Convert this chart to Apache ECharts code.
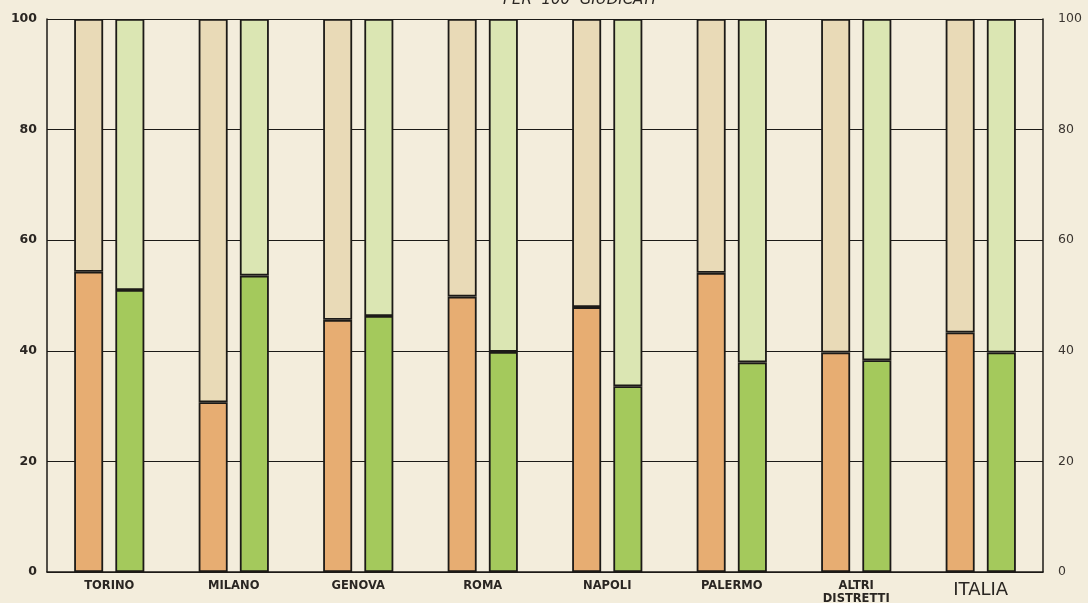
<!DOCTYPE html>
<html>
<head>
<meta charset="utf-8">
<script src="https://cdn.jsdelivr.net/npm/echarts@6/dist/echarts.min.js"></script>
<style>
  html, body { margin: 0; padding: 0; background: #f3eddc; }
  #chart { width: 1088px; height: 603px; }
</style>
</head>
<body>
<div id="chart"></div>
<script>
  // distretti
  var categories = ['TORINO', 'MILANO', 'GENOVA', 'ROMA', 'NAPOLI', 'PALERMO', 'ALTRI\nDISTRETTI', 'ITALIA'];
  // per 100 giudicati (quota scura)
  var orangeValues = [54.3, 30.7, 45.6, 49.8, 47.9, 54.1, 39.7, 43.3];
  var greenValues = [51.0, 53.6, 46.3, 39.8, 33.6, 37.9, 38.3, 39.7];
  var yTicks = [0, 20, 40, 60, 80, 100];

  var rest = function (arr) {
    return arr.map(function (v) { return +(100 - v).toFixed(1); });
  };

  var line = '#1c1a17';
  var barStyle = function (color) {
    return { color: color, borderColor: line, borderWidth: 1.8 };
  };

  var chart = echarts.init(document.getElementById('chart'));
  chart.setOption({
    backgroundColor: '#f3eddc',
    animation: false,
    grid: { left: 47, right: 45, top: 19, bottom: 31, containLabel: false, outerBoundsMode: 'none' },
    graphic: [{
      type: 'text',
      left: 503,
      top: -7,
      style: {
        text: 'PER  100  GIUDICATI',
        font: 'italic 15px "DejaVu Sans"',
        fill: '#2a2622'
      }
    }],
    xAxis: {
      type: 'category',
      data: categories,
      axisLine: { show: true, lineStyle: { color: line, width: 1.5 } },
      axisTick: { show: false },
      axisLabel: {
        margin: 8,
        color: '#2a2622',
        lineHeight: 13,
        formatter: function (v) {
          if (v === 'ITALIA') return '{big|' + v + '}';
          return '{b|' + v.split('\n').join('}\n{b|') + '}';
        },
        rich: {
          b: { fontFamily: 'DejaVu Sans', fontWeight: 'bold', fontSize: 11.5, lineHeight: 13, color: '#2a2622' },
          big: { fontFamily: 'DejaVu Sans', fontSize: 18, lineHeight: 20, color: '#2a2622' }
        }
      }
    },
    yAxis: [{
      type: 'value',
      min: 0, max: 100, interval: 20,
      axisLine: { show: true, lineStyle: { color: line, width: 1.5 } },
      axisTick: { show: false },
      splitLine: { show: true, lineStyle: { color: line, width: 1.2 } },
      axisLabel: {
        margin: 10,
        color: '#2a2622',
        fontFamily: 'DejaVu Sans',
        fontWeight: 'bold',
        fontSize: 12.5,
        customValues: yTicks
      }
    }, {
      type: 'value',
      position: 'right',
      min: 0, max: 100, interval: 20,
      axisLine: { show: true, lineStyle: { color: line, width: 1.5 } },
      axisTick: { show: false },
      splitLine: { show: false },
      axisLabel: {
        margin: 15,
        color: '#3a3530',
        fontFamily: 'DejaVu Sans',
        fontSize: 12.5,
        padding: [8, 0, 0, 0]
      }
    }],
    series: [{
      name: 'arancio',
      type: 'bar',
      stack: 'o',
      barWidth: 29,
      barGap: '42%',
      data: orangeValues,
      itemStyle: barStyle('#e7ad72')
    }, {
      name: 'arancio chiaro',
      type: 'bar',
      stack: 'o',
      barWidth: 29,
      data: rest(orangeValues),
      itemStyle: barStyle('#e9dab7')
    }, {
      name: 'verde',
      type: 'bar',
      stack: 'g',
      barWidth: 29,
      data: greenValues,
      itemStyle: barStyle('#a4c95c')
    }, {
      name: 'verde chiaro',
      type: 'bar',
      stack: 'g',
      barWidth: 29,
      data: rest(greenValues),
      itemStyle: barStyle('#dbe6b3')
    }]
  });
</script>
</body>
</html>
